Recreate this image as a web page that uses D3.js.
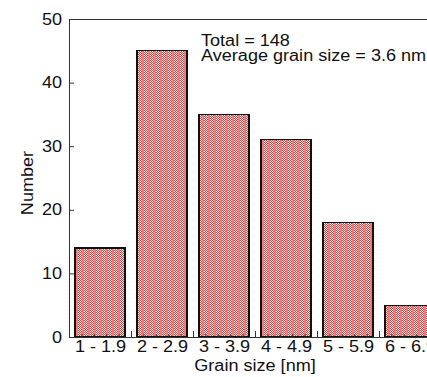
<!DOCTYPE html>
<html>
<head>
<meta charset="utf-8">
<script src="https://cdn.jsdelivr.net/npm/d3@7"></script>
<style>
  html, body { margin: 0; padding: 0; background: #fff; overflow: hidden; }
  svg { display: block; }
  text { font-family: Arial, "Liberation Sans", sans-serif; fill: #111; }
</style>
</head>
<body>
<svg id="chart" width="427" height="377"></svg>
<script>
// Grain size histogram data
const categories = ["1 - 1.9", "2 - 2.9", "3 - 3.9", "4 - 4.9", "5 - 5.9", "6 - 6.9"];
const binStarts = [1, 2, 3, 4, 5, 6];
const counts = [14, 45, 35, 31, 18, 5];
const yTicks = [0, 10, 20, 30, 40, 50];
const notes = ["Total = 148", "Average grain size = 3.6 nm"];

const plotLeft = 69, plotRight = 441, plotTop = 19, plotBottom = 337;
const sx = 1.13; // horizontal glyph stretch

const svg = d3.select("#chart");

const x = d3.scaleLinear().domain([1, 7]).range([plotLeft, plotRight]);
const y = d3.scaleLinear().domain([0, 50]).range([plotBottom, plotTop]);

// red / white checker fill with vertical bands
const defs = svg.append("defs");
const pat = defs.append("pattern")
  .attr("id", "checker")
  .attr("patternUnits", "userSpaceOnUse")
  .attr("width", 6).attr("height", 2);
pat.append("rect").attr("width", 6).attr("height", 2).attr("fill", "#fff");
[[0,0],[2,0],[1,1],[3,1]].forEach(([px, py]) => {
  pat.append("rect").attr("x", px).attr("y", py).attr("width", 1).attr("height", 1).attr("fill", "#ee2a2a");
});
pat.append("rect").attr("x", 4).attr("y", 0).attr("width", 2).attr("height", 2).attr("fill", "#f47878");

// bars
const inset = 6;
svg.append("g").selectAll("rect")
  .data(counts)
  .join("rect")
  .attr("x", (d, i) => x(binStarts[i]) + inset)
  .attr("width", (d, i) => x(binStarts[i] + 1) - x(binStarts[i]) - 2 * inset)
  .attr("y", d => y(d))
  .attr("height", d => y(0) - y(d))
  .attr("fill", "url(#checker)")
  .attr("stroke", "#111")
  .attr("stroke-width", 1.3)
  .attr("shape-rendering", "crispEdges");

// frame
const axisColor = "#333";
svg.append("path")
  .attr("d", `M${plotLeft},${plotBottom}V${plotTop}H${plotRight}V${plotBottom}Z`)
  .attr("fill", "none").attr("stroke", axisColor).attr("stroke-width", 1)
  .attr("shape-rendering", "crispEdges");

// y axis with inward ticks
const yAxis = svg.append("g")
  .attr("transform", `translate(${plotLeft},0)`)
  .call(d3.axisLeft(y).tickValues(yTicks).tickSize(-5).tickPadding(7).tickFormat(d3.format("d")));
yAxis.select(".domain").remove();
yAxis.selectAll("line").attr("stroke", axisColor);
yAxis.selectAll("text")
  .attr("font-size", 16).attr("font-family", "Arial, 'Liberation Sans', sans-serif")
  .attr("fill", "#111")
  .each(function () {
    const t = d3.select(this);
    t.attr("transform", `translate(${t.attr("x")},0) scale(${sx},1)`).attr("x", 0);
  });

// bottom major ticks at bin edges, minor every 0.2
const majors = d3.range(1, 8);
const minors = d3.range(1, 7.001, 0.2).filter(v => Math.abs(v - Math.round(v)) > 1e-6);
const tickG = svg.append("g").attr("transform", `translate(0,${plotBottom})`);
tickG.call(d3.axisBottom(x).tickValues(majors).tickSize(-6).tickFormat(""));
tickG.select(".domain").remove();
const minorG = svg.append("g").attr("transform", `translate(0,${plotBottom})`);
minorG.call(d3.axisBottom(x).tickValues(minors).tickSize(-3).tickFormat(""));
minorG.select(".domain").remove();
svg.selectAll(".tick line").attr("stroke", axisColor);

// category labels centred under each bar
const catG = svg.append("g").attr("transform", `translate(0,${plotBottom})`);
catG.call(d3.axisBottom(x).tickValues(binStarts.map(b => b + 0.5)).tickSize(0).tickPadding(3)
  .tickFormat((d, i) => categories[i]));
catG.select(".domain").remove();
catG.selectAll("text")
  .attr("font-size", 16).attr("font-family", "Arial, 'Liberation Sans', sans-serif")
  .attr("fill", "#111")
  .attr("transform", `scale(${sx},1)`)
  .attr("dy", "0.78em");

// axis titles
svg.append("text")
  .attr("transform", `translate(${(plotLeft + plotRight) / 2},371) scale(${sx},1)`)
  .attr("text-anchor", "middle").attr("font-size", 16)
  .text("Grain size [nm]");
svg.append("text")
  .attr("transform", `translate(33,183) rotate(-90) scale(${sx},1)`)
  .attr("text-anchor", "middle").attr("font-size", 16)
  .text("Number");

// summary notes
svg.append("g").selectAll("text")
  .data(notes)
  .join("text")
  .attr("transform", (d, i) => `translate(201,${46 + i * 15}) scale(${sx},1)`)
  .attr("font-size", 16)
  .text(d => d);
</script>
</body>
</html>
